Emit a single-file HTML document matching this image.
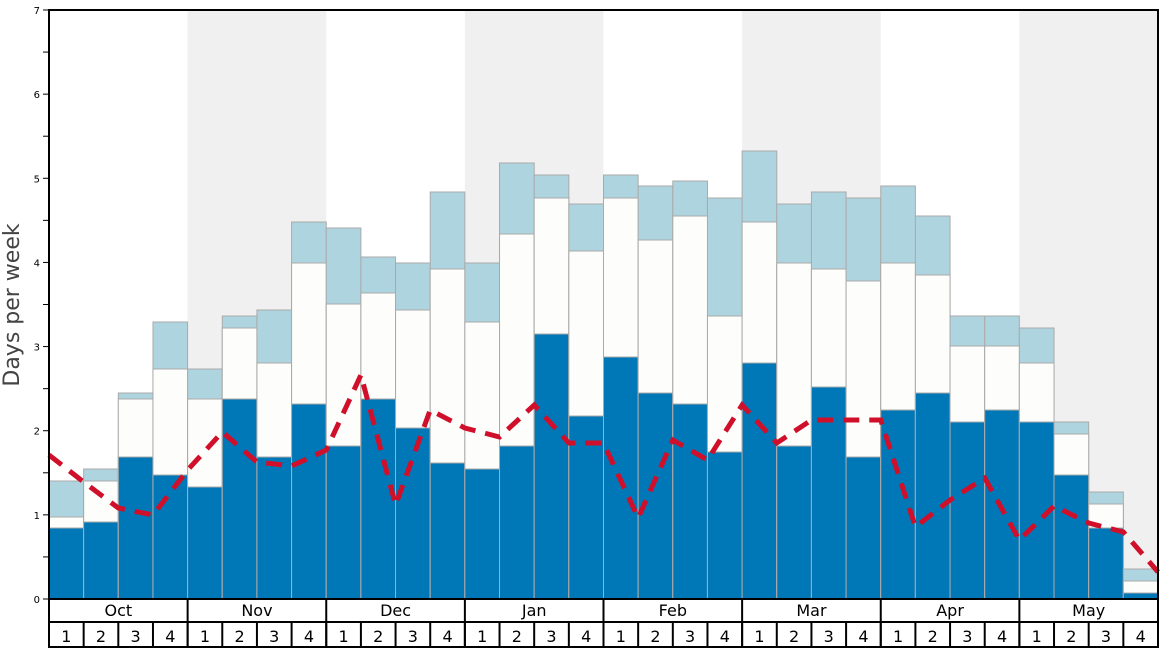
<!DOCTYPE html>
<html><head><meta charset="utf-8"><style>body{margin:0;background:#fff}svg{display:block;font-family:"DejaVu Sans","Liberation Sans",sans-serif}</style></head><body>
<svg id="s" width="1168" height="648" xmlns="http://www.w3.org/2000/svg">
<rect width="1168" height="648" fill="#fff"/>
<g id="bands"></g><g id="bars"></g>
<polyline id="line" fill="none" stroke="#d0102a" stroke-width="5" stroke-dasharray="16,10"/>
<g id="axes"></g>
<text x="19" y="305" font-size="22" fill="#444" text-anchor="middle" transform="rotate(-90 19 305)">Days per week</text>
</svg>
<script>
const L=49,R=1158,T=10,B=599,w=(R-L)/32;
const d=[[528,517,481],[522,481,469],[457,399,393],[475,369,322],[487,399,369],[399,328,316],[457,363,310],[404,263,222],[446,304,228],[399,293,257],[428,310,263],[463,269,192],[469,322,263],[446,234,163],[334,198,175],[416,251,204],[357,198,175],[393,240,186],[404,216,181],[452,316,198],[363,222,151],[446,263,204],[387,269,192],[457,281,198],[410,263,186],[393,275,216],[422,346,316],[410,346,316],[422,363,328],[475,434,422],[528,504,492],[593,581,569]];
const ly=[455,482,508,515,470,432,462,466,450,375,505,410,428,437,405,443,443,518,440,460,405,443,420,420,420,527,500,478,540,506,523,532,572];
let h='';
let bands='';for(let m=1;m<8;m+=2)bands+=`<rect x="${L+m*4*w}" y="${T}" width="${4*w}" height="${B-T}" fill="#f0f0f0"/>`;
document.getElementById('bands').innerHTML=bands;
d.forEach((v,i)=>{const x=L+i*w;
h+=`<rect x="${x}" y="${v[2]}" width="${w}" height="${B-v[2]}" fill="#aed4e0" stroke="#aaa" stroke-width="1"/>`;
h+=`<rect x="${x}" y="${v[1]}" width="${w}" height="${B-v[1]}" fill="#fdfdfb" stroke="#aaa" stroke-width="1"/>`;
h+=`<rect x="${x}" y="${v[0]}" width="${w}" height="${B-v[0]}" fill="#0077b6" stroke="#aaa" stroke-width="1"/>`;});
document.getElementById('bars').innerHTML=h;
document.getElementById('line').setAttribute('points',ly.map((y,i)=>`${L+i*w},${y}`).join(' '));
let a=`<rect x="${L}" y="${T}" width="${R-L}" height="${B-T}" fill="none" stroke="#000" stroke-width="2"/>`;
const sc=(B-T)/7;
for(let k=0;k<=14;k++){const y=B-k*sc/2;a+=`<line x1="${L-6}" x2="${L}" y1="${y}" y2="${y}" stroke="#000"/>`;if(k%2==0)a+=`<text x="${L-9}" y="${y+4}" font-size="10" text-anchor="end">${k/2}</text>`;}
a+=`<rect x="${L}" y="${B}" width="${R-L}" height="${647-B}" fill="#fff" stroke="#000" stroke-width="2"/><line x1="${L}" x2="${R}" y1="622" y2="622" stroke="#000" stroke-width="2"/>`;
const mo=['Oct','Nov','Dec','Jan','Feb','Mar','Apr','May'];
mo.forEach((m,i)=>{const x=L+i*4*w;a+=`<line x1="${x}" x2="${x}" y1="${B}" y2="647" stroke="#000" stroke-width="2"/><text x="${x+2*w}" y="616" font-size="16" text-anchor="middle">${m}</text>`;
for(let j=0;j<4;j++){const xx=x+j*w;a+=`<line x1="${xx}" x2="${xx}" y1="622" y2="647" stroke="#000" stroke-width="2"/><text x="${xx+w/2}" y="642" font-size="16" text-anchor="middle">${j+1}</text>`;}});
document.getElementById('axes').innerHTML=a;
</script>
</body></html>
